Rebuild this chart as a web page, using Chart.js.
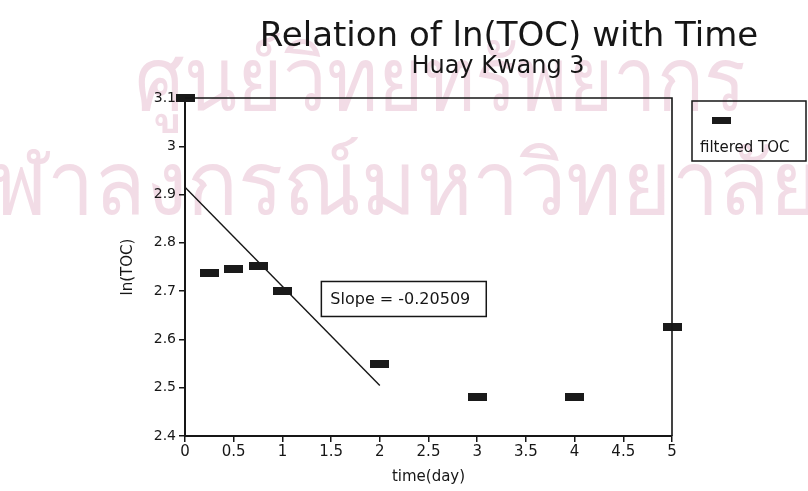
<!DOCTYPE html>
<html>
<head>
<meta charset="utf-8">
<script src="https://cdn.jsdelivr.net/npm/chart.js@4/dist/chart.umd.min.js"></script>
<style>
  html, body { margin: 0; padding: 0; background: #ffffff; }
  #wrap { width: 808px; height: 491px; position: relative; }
</style>
</head>
<body>
<div id="wrap"><canvas id="c" width="808" height="491"></canvas></div>
<script>
// Measurements: time in days and natural log of filtered TOC
const TIME_DAY = [0, 0.25, 0.5, 0.75, 1, 2, 3, 4, 5];
const LN_TOC   = [3.1, 2.737, 2.746, 2.752, 2.700, 2.550, 2.481, 2.480, 2.625];

// Fitted first-order decay over the early part of the record
const FIT_SLOPE = -0.20509;
const FIT_INTERCEPT = 2.915;
const FIT_RANGE = [0, 2];

// Axis ticks
const X_TICKS = [0, 0.5, 1, 1.5, 2, 2.5, 3, 3.5, 4, 4.5, 5];
const Y_TICKS = [2.4, 2.5, 2.6, 2.7, 2.8, 2.9, 3.0, 3.1];

const TITLE = 'Relation of ln(TOC) with Time';
const SUBTITLE = 'Huay Kwang 3';
const SERIES_LABEL = 'filtered TOC';
const WATERMARK = ['ศูนย์วิทยทรัพยากร', 'จุฬาลงกรณ์มหาวิทยาลัย'];

const FONT = '"DejaVu Sans", "Liberation Sans", Arial, sans-serif';
const INK = '#161616';

// Flat rectangular marker used for the data points and the legend
function makeMarker(w, h) {
  const m = document.createElement('canvas');
  m.width = w; m.height = h;
  const g = m.getContext('2d');
  g.fillStyle = '#1a1a1a';
  g.fillRect(0, 0, w, h);
  return m;
}
const marker = makeMarker(19, 8);

const points = TIME_DAY.map((t, i) => ({ x: t, y: LN_TOC[i] }));
const fitLine = FIT_RANGE.map(t => ({ x: t, y: FIT_INTERCEPT + FIT_SLOPE * t }));

const fmt = v => String(parseFloat(Number(v).toFixed(2)));

// Background lettering, titles, plot frame, slope note and legend
const decor = {
  id: 'decor',
  beforeDraw(chart) {
    const ctx = chart.ctx;
    ctx.save();
    ctx.fillStyle = '#ffffff';
    ctx.fillRect(0, 0, chart.width, chart.height);
    ctx.fillStyle = 'rgba(212, 140, 172, 0.30)';
    ctx.textBaseline = 'alphabetic';
    ctx.textAlign = 'center';
    ctx.font = '88px ' + FONT;
    ctx.fillText(WATERMARK[0], 440, 110, 610);
    ctx.fillText(WATERMARK[1], 380, 214, 880);
    ctx.restore();
  },
  afterDraw(chart) {
    const ctx = chart.ctx;
    const a = chart.chartArea;
    const xs = chart.scales.x, ys = chart.scales.y;
    ctx.save();
    // titles
    ctx.fillStyle = INK;
    ctx.textAlign = 'center';
    ctx.textBaseline = 'alphabetic';
    ctx.font = '34px ' + FONT;
    ctx.fillText(TITLE, 509, 46);
    ctx.font = '24px ' + FONT;
    ctx.fillText(SUBTITLE, 498, 73);

    // top and right sides of the plot frame
    ctx.strokeStyle = INK;
    ctx.lineWidth = 1.6;
    ctx.beginPath();
    ctx.moveTo(a.left, a.top);
    ctx.lineTo(a.right, a.top);
    ctx.lineTo(a.right, a.bottom);
    ctx.stroke();

    // slope note, anchored in data space
    ctx.font = '16px ' + FONT;
    const note = 'Slope = ' + FIT_SLOPE;
    const bx = xs.getPixelForValue(1.4);
    const by = ys.getPixelForValue(2.72);
    const tw = ctx.measureText(note).width;
    const bw = tw + 25, bh = 35;
    ctx.fillStyle = '#ffffff';
    ctx.fillRect(bx, by, bw, bh);
    ctx.lineWidth = 1.5;
    ctx.strokeRect(bx, by, bw, bh);
    ctx.fillStyle = INK;
    ctx.textAlign = 'left';
    ctx.textBaseline = 'middle';
    ctx.fillText(note, bx + 9, by + bh / 2 + 1);

    // legend box
    const lx = 692, ly = 101, lw = 114, lh = 60;
    ctx.lineWidth = 1.5;
    ctx.strokeRect(lx, ly, lw, lh);
    ctx.drawImage(marker, 712, 117, 19, 7);
    ctx.font = '15px ' + FONT;
    ctx.textBaseline = 'alphabetic';
    ctx.fillText(chart.data.datasets[0].label, 700, 152);
    ctx.restore();
  }
};

new Chart(document.getElementById('c'), {
  type: 'scatter',
  data: {
    datasets: [
      {
        label: SERIES_LABEL,
        data: points,
        pointStyle: marker,
        pointRadius: 5,
        showLine: false,
        clip: false,
        order: 1
      },
      {
        label: 'fit',
        data: fitLine,
        showLine: true,
        pointRadius: 0,
        borderColor: INK,
        borderWidth: 1.4,
        fill: false,
        order: 2
      }
    ]
  },
  options: {
    responsive: false,
    animation: false,
    devicePixelRatio: 1,
    events: [],
    layout: { padding: { left: 115, right: 136, top: 98, bottom: 0 } },
    plugins: {
      legend: { display: false },
      title: { display: false },
      tooltip: { enabled: false }
    },
    scales: {
      x: {
        type: 'linear',
        position: 'bottom',
        min: 0,
        max: 5,
        afterBuildTicks: s => { s.ticks = X_TICKS.map(v => ({ value: v })); },
        afterFit: s => { s.height = 55; },
        ticks: {
          callback: v => fmt(v),
          font: { family: FONT, size: 15 },
          color: INK,
          padding: 1,
          maxRotation: 0,
          autoSkip: false
        },
        grid: { display: true, drawOnChartArea: false, drawTicks: true, tickLength: 6, color: INK, lineWidth: 1.5 },
        border: { display: true, color: INK, width: 2 },
        title: { display: true, text: 'time(day)', color: INK, font: { family: FONT, size: 15 }, padding: { top: 0, bottom: 5 } }
      },
      y: {
        type: 'linear',
        min: 2.4,
        max: 3.1,
        afterBuildTicks: s => { s.ticks = Y_TICKS.map(v => ({ value: v })); },
        afterFit: s => { s.width = 70; },
        ticks: {
          callback: v => fmt(v),
          font: { family: FONT, size: 14 },
          color: INK,
          padding: 3,
          autoSkip: false
        },
        grid: { display: true, drawOnChartArea: false, drawTicks: true, tickLength: 6, color: INK, lineWidth: 1.5 },
        border: { display: true, color: INK, width: 2 },
        title: { display: true, text: 'ln(TOC)', color: INK, font: { family: FONT, size: 15 }, padding: { top: 4, bottom: 4 } }
      }
    }
  },
  plugins: [decor]
});
</script>
</body>
</html>
